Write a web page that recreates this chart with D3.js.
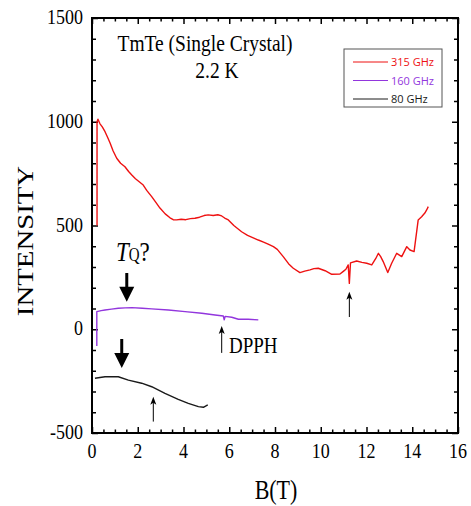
<!DOCTYPE html>
<html>
<head>
<meta charset="utf-8">
<script src="https://cdn.jsdelivr.net/npm/d3@7"></script>
<style>
  body { margin: 0; background: #fff; }
</style>
</head>
<body>
<script>
// axis ticks
var xMajor = [0, 2, 4, 6, 8, 10, 12, 14, 16];
var yMajor = [-500, 0, 500, 1000, 1500];

// legend
var seriesNames = ["315 GHz", "160 GHz", "80 GHz"];
var seriesColors = ["#ee1111", "#9236dd", "#1a1a1a"];

// [B (T), intensity]
var data315 = [[0.22, 500], [0.22, 1000], [0.26, 1012], [0.35, 990], [0.45, 975], [0.57, 952], [0.68, 925],
  [0.79, 898], [0.92, 860], [1.08, 824], [1.25, 800], [1.44, 783], [1.6, 760], [1.74, 743], [1.9, 725],
  [2.05, 712], [2.24, 695], [2.4, 668], [2.61, 639], [2.8, 610], [2.97, 584], [3.2, 556], [3.41, 537],
  [3.55, 528], [3.7, 527], [3.9, 530], [4.1, 528], [4.3, 533], [4.5, 535], [4.7, 540], [4.9, 548],
  [5.08, 551], [5.3, 548], [5.5, 552], [5.67, 546], [5.8, 536], [5.96, 527], [6.2, 500], [6.54, 470],
  [6.8, 452], [7.0, 443], [7.27, 430], [7.5, 420], [7.7, 410], [7.93, 398], [8.1, 385], [8.36, 350],
  [8.6, 315], [8.8, 294], [9.09, 273], [9.3, 280], [9.53, 286], [9.7, 292], [9.89, 294], [10.19, 282],
  [10.48, 265], [10.84, 266], [11.0, 280], [11.1, 289], [11.2, 310], [11.25, 221], [11.3, 320],
  [11.57, 329], [11.8, 322], [12.01, 318], [12.23, 310], [12.4, 340], [12.52, 366], [12.62, 350],
  [12.73, 326], [12.93, 273], [13.1, 318], [13.32, 366], [13.54, 350], [13.76, 398], [13.9, 382],
  [14.08, 374], [14.26, 527], [14.41, 542], [14.55, 560], [14.63, 575], [14.7, 591]];
var data160 = [[0.21, -81], [0.21, 85], [0.4, 90], [0.57, 93], [0.85, 97], [1.15, 101], [1.45, 103],
  [1.74, 104], [2.2, 101], [2.61, 98], [3.34, 93], [4.07, 85], [4.8, 77], [5.38, 69], [5.74, 64],
  [5.78, 45], [5.82, 62], [6.11, 58], [6.4, 48], [6.83, 48], [7.27, 45]];
var data80 = [[0.13, -236], [0.57, -229], [1.15, -229], [1.59, -245], [2.17, -260], [2.61, -277],
  [3.19, -309], [3.77, -338], [4.21, -357], [4.65, -373], [4.87, -376], [5.06, -365]];
var allSeries = [data315, data160, data80];

// annotation arrows: [B, tail intensity, tip intensity]
var bigArrows = [[1.52, 271, 133], [1.3, -47, -187]];
var smallArrows = [[5.67, -114, 16], [2.68, -445, -325], [11.25, 59, 181]];

var W = 471, H = 506;
var svg = d3.select("body").append("svg").attr("width", W).attr("height", H);

var x = d3.scaleLinear().domain([0, 16]).range([92, 458]);
var y = d3.scaleLinear().domain([-500, 1500]).range([433, 18]);

var serif = "'Liberation Serif', 'Times New Roman', serif";
var stretch = 1.2;

function stext(px, py, str, size, anchor) {
  return svg.append("text")
    .attr("transform", "translate(" + px + "," + py + ") scale(1," + stretch + ")")
    .attr("text-anchor", anchor || "start")
    .style("font-family", serif)
    .style("font-size", size + "px")
    .text(str);
}

// minor ticks
var xMinor = d3.range(0, 16.01, 0.5).filter(function(v) { return v % 2 != 0; });
var yMinor = d3.range(-500, 1501, 100).filter(function(v) { return v % 500 != 0; });

function drawAxis(axisFn, scale, ticks, size, tr) {
  svg.append("g").attr("transform", tr)
    .call(axisFn(scale).tickValues(ticks).tickSize(-size).tickFormat(""))
    .call(function(g) {
      g.select(".domain").remove();
      g.selectAll("line").attr("stroke", "#000").attr("stroke-width", 1.5);
    });
}
drawAxis(d3.axisBottom, x, xMajor, 6, "translate(0,433)");
drawAxis(d3.axisBottom, x, xMinor, 3.5, "translate(0,433)");
drawAxis(d3.axisTop, x, xMajor, 6, "translate(0,18)");
drawAxis(d3.axisTop, x, xMinor, 3.5, "translate(0,18)");
drawAxis(d3.axisLeft, y, yMajor, 6, "translate(92,0)");
drawAxis(d3.axisLeft, y, yMinor, 4, "translate(92,0)");
drawAxis(d3.axisRight, y, yMajor, 6, "translate(458,0)");
drawAxis(d3.axisRight, y, yMinor, 4, "translate(458,0)");

// frame
svg.append("rect")
  .attr("x", x(0)).attr("y", y(1500))
  .attr("width", x(16) - x(0)).attr("height", y(-500) - y(1500))
  .attr("fill", "none").attr("stroke", "#000").attr("stroke-width", 2);

// tick labels
xMajor.forEach(function(v) { stext(x(v), 458, v, 18, "middle"); });
yMajor.forEach(function(v) { stext(83, y(v) + 6, v, 18, "end"); });

// axis titles
svg.append("text")
  .attr("transform", "translate(33,241) scale(1," + stretch + ") rotate(-90)")
  .attr("text-anchor", "middle")
  .style("font-family", serif).style("font-size", "24px")
  .text("INTENSITY");
stext(276, 499, "B(T)", 22, "middle");

// curves
var line = d3.line().x(function(d) { return x(d[0]); }).y(function(d) { return y(d[1]); });
allSeries.forEach(function(s, i) {
  svg.append("path").datum(s)
    .attr("d", line)
    .attr("fill", "none")
    .attr("stroke", seriesColors[i])
    .attr("stroke-width", 1.4)
    .attr("stroke-linejoin", "round");
});

// title
stext(205, 51, "TmTe (Single Crystal)", 19.5, "middle");
stext(217, 78, "2.2 K", 19.5, "middle");

// legend
var lg = svg.append("g");
lg.append("rect").attr("x", 344).attr("y", 49).attr("width", 98).attr("height", 58)
  .attr("fill", "#fff").attr("stroke", "#555").attr("stroke-width", 1);
seriesNames.forEach(function(n, i) {
  var ly = 62 + i * 18.5;
  lg.append("line").attr("x1", 353).attr("x2", 388).attr("y1", ly).attr("y2", ly)
    .attr("stroke", seriesColors[i]).attr("stroke-width", 1);
  lg.append("text").attr("x", 391).attr("y", ly + 4)
    .style("font-family", "'Open Sans', sans-serif").style("font-size", "11px")
    .attr("fill", seriesColors[i]).text(n);
});

// big arrows (T_Q?)
bigArrows.forEach(function(a) {
  var ax = x(a[0]), y0 = y(a[1]), y1 = y(a[2]);
  svg.append("line").attr("x1", ax).attr("x2", ax).attr("y1", y0).attr("y2", y1 - 13)
    .attr("stroke", "#000").attr("stroke-width", 3);
  svg.append("path")
    .attr("d", "M" + (ax - 7.5) + "," + (y1 - 15) + "L" + (ax + 7.5) + "," + (y1 - 15) + "L" + ax + "," + y1 + "Z")
    .attr("fill", "#000");
});

// small arrows
smallArrows.forEach(function(a) {
  var ax = x(a[0]), y0 = y(a[1]), y1 = y(a[2]);
  svg.append("line").attr("x1", ax).attr("x2", ax).attr("y1", y0).attr("y2", y1 + 5)
    .attr("stroke", "#000").attr("stroke-width", 1);
  svg.append("path")
    .attr("d", "M" + ax + "," + y1 + "L" + (ax + 3) + "," + (y1 + 8) + "L" + ax + "," + (y1 + 6) +
      "L" + (ax - 3) + "," + (y1 + 8) + "Z")
    .attr("fill", "#000");
});

// T_Q? label
var tq = svg.append("text")
  .attr("transform", "translate(116,261) scale(1," + stretch + ")")
  .style("font-family", serif).style("font-size", "23px");
tq.append("tspan").style("font-style", "italic").text("T");
tq.append("tspan").style("font-size", "15px").text("Q");
tq.append("tspan").text("?");

// DPPH label
stext(229, 353, "DPPH", 19, "start");
</script>
</body>
</html>
